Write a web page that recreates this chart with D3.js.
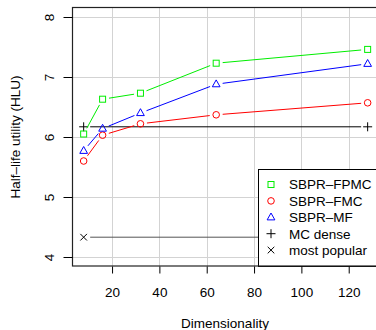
<!DOCTYPE html>
<html>
<head>
<meta charset="utf-8">
<script src="https://cdn.jsdelivr.net/npm/d3@7"></script>
<style>
  body { margin: 0; background: #fff; }
  svg { display: block; font-family: "Liberation Sans", Arial, Helvetica, sans-serif; }
</style>
</head>
<body>
<div id="chart"></div>
<script>
const dims = [8, 16, 32, 64, 128];
const fpmc = [6.05, 6.63, 6.73, 7.23, 7.46];
const fmc = [5.60, 6.03, 6.22, 6.37, 6.57];
const mf = [5.77, 6.14, 6.40, 6.88, 7.22];
const mcDense = { x: [8, 128], y: [6.17, 6.17] };
const mostPopular = { x: [8, 128], y: [4.33, 4.33] };
const xTicks = [20, 40, 60, 80, 100, 120];
const yTicks = [4, 5, 6, 7, 8];
const legendLabels = ['SBPR–FPMC', 'SBPR–FMC', 'SBPR–MF', 'MC dense', 'most popular'];

const width = 376, height = 330;
const svg = d3.select('#chart').append('svg')
  .attr('width', width).attr('height', height);

const x = d3.scaleLinear().domain([3.2, 132.8]).range([72.3, 379]);
const y = d3.scaleLinear().domain([3.84, 8.16]).range([266.6, 7.4]);
const fontSize = 13.5;

// grid
const grid = svg.append('g').attr('stroke', '#d3d3d3').attr('stroke-width', 1);
grid.selectAll('line.gx').data(xTicks).join('line')
  .attr('x1', d => Math.round(x(d)) + 0.5).attr('x2', d => Math.round(x(d)) + 0.5)
  .attr('y1', y.range()[1]).attr('y2', y.range()[0]);
grid.selectAll('line.gy').data(yTicks).join('line')
  .attr('y1', d => Math.round(y(d)) + 0.5).attr('y2', d => Math.round(y(d)) + 0.5)
  .attr('x1', x.range()[0]).attr('x2', x.range()[1]);

// type="b" style: segments with gaps near points
function drawSeries(xs, ys, color, gap) {
  const g = svg.append('g').attr('stroke', color).attr('stroke-width', 1).attr('fill', 'none');
  for (let i = 0; i < xs.length - 1; i++) {
    const x1 = x(xs[i]), y1 = y(ys[i]), x2 = x(xs[i + 1]), y2 = y(ys[i + 1]);
    const len = Math.hypot(x2 - x1, y2 - y1);
    if (len <= 2 * gap) continue;
    const ux = (x2 - x1) / len, uy = (y2 - y1) / len;
    g.append('line')
      .attr('x1', x1 + ux * gap).attr('y1', y1 + uy * gap)
      .attr('x2', x2 - ux * gap).attr('y2', y2 - uy * gap);
  }
  return g;
}

function marker(g, type, cx, cy, color) {
  const s = 3;
  if (type === 'square') {
    g.append('rect').attr('x', cx - s).attr('y', cy - s).attr('width', 2 * s).attr('height', 2 * s)
      .attr('fill', 'none').attr('stroke', color);
  } else if (type === 'circle') {
    g.append('circle').attr('cx', cx).attr('cy', cy).attr('r', 3.3)
      .attr('fill', 'none').attr('stroke', color);
  } else if (type === 'triangle') {
    const r = 4.3;
    g.append('path')
      .attr('d', `M${cx},${cy - r}L${cx + r * 0.9},${cy + r * 0.6}L${cx - r * 0.9},${cy + r * 0.6}Z`)
      .attr('fill', 'none').attr('stroke', color);
  } else if (type === 'plus') {
    const r = 4.5;
    g.append('path').attr('d', `M${cx - r},${cy}H${cx + r}M${cx},${cy - r}V${cy + r}`)
      .attr('stroke', color).attr('fill', 'none');
  } else if (type === 'cross') {
    const r = 3.3;
    g.append('path').attr('d', `M${cx - r},${cy - r}L${cx + r},${cy + r}M${cx - r},${cy + r}L${cx + r},${cy - r}`)
      .attr('stroke', color).attr('fill', 'none');
  }
}

const series = [
  { xs: mostPopular.x, ys: mostPopular.y, color: '#555', type: 'cross' },
  { xs: mcDense.x, ys: mcDense.y, color: '#000', type: 'plus' },
  { xs: dims, ys: fmc, color: '#ff0000', type: 'circle' },
  { xs: dims, ys: mf, color: '#0000ff', type: 'triangle' },
  { xs: dims, ys: fpmc, color: '#00ee00', type: 'square' },
];

series.forEach(s => {
  const g = drawSeries(s.xs, s.ys, s.color, 6.5);
  const mc = s.type === 'cross' ? '#000' : s.color;
  s.xs.forEach((xv, i) => marker(svg.append('g'), s.type, x(xv), y(s.ys[i]), mc));
});

// legend
const lg = svg.append('g');
lg.append('rect').attr('x', 258.5).attr('y', 169.5).attr('width', 130).attr('height', 97)
  .attr('fill', '#fff').attr('stroke', '#000');
const legendTypes = ['square', 'circle', 'triangle', 'plus', 'cross'];
const legendColors = ['#00ee00', '#ff0000', '#0000ff', '#000', '#000'];
legendLabels.forEach((lab, i) => {
  const cy = 184.5 + 16.4 * i;
  marker(lg, legendTypes[i], 271, cy, legendColors[i]);
  lg.append('text').attr('x', 289).attr('y', cy + 4.8)
    .attr('font-size', fontSize).attr('fill', '#000').text(lab);
});

// plot box
svg.append('rect')
  .attr('x', 72.5).attr('y', 7.5).attr('width', 320).attr('height', 258.5)
  .attr('fill', 'none').attr('stroke', '#222').attr('stroke-width', 1.2);

// axes
const xAxis = svg.append('g').attr('transform', 'translate(0,266.5)')
  .call(d3.axisBottom(x).tickValues(xTicks).tickSize(7).tickPadding(14).tickFormat(d3.format('d')));
xAxis.select('.domain').remove();
xAxis.selectAll('text').attr('font-size', fontSize).attr('font-family', null).attr('fill', '#000');

const yAxis = svg.append('g').attr('transform', 'translate(72.5,0)')
  .call(d3.axisLeft(y).tickValues(yTicks).tickSize(9).tickFormat(d3.format('d')));
yAxis.select('.domain').remove();
yAxis.selectAll('.tick text')
  .attr('font-size', fontSize).attr('font-family', null).attr('fill', '#000')
  .attr('x', null).attr('dy', null).attr('text-anchor', 'middle')
  .attr('transform', 'translate(-19,0) rotate(-90)');

// titles
svg.append('text').attr('x', 225).attr('y', 327.5).attr('text-anchor', 'middle')
  .attr('font-size', fontSize).text('Dimensionality');
svg.append('text').attr('transform', 'translate(20,137) rotate(-90)').attr('text-anchor', 'middle')
  .attr('font-size', fontSize).text('Half–life utility (HLU)');
</script>
</body>
</html>
